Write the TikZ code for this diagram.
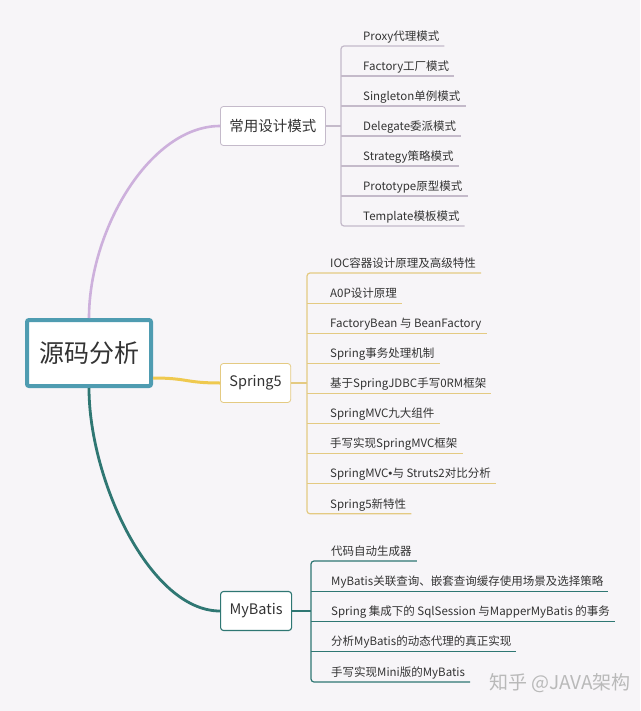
\documentclass[tikz,border=0pt]{standalone}
\usepackage{fontspec}
\setmainfont{Noto Sans CJK SC}
\newfontfamily\puntof{Liberation Sans}

\definecolor{fondo}{HTML}{F7F5F8}
\definecolor{raizc}{HTML}{4F9CB1}
\definecolor{lila}{HTML}{CDB0DC}
\definecolor{lilagris}{HTML}{C4BACA}
\definecolor{oro}{HTML}{EFC94F}
\definecolor{orocl}{HTML}{E4CA82}
\definecolor{verde}{HTML}{2F7773}
\definecolor{texto}{HTML}{333333}

\begin{document}
\begin{tikzpicture}[x=1pt,y=-1pt,
  raiz/.style={draw=raizc,line width=4pt,fill=white,rounded corners=2pt,
    minimum width=124pt,minimum height=66pt,text=texto,font=\fontsize{25}{28}\selectfont},
  rama/.style={fill=white,rounded corners=3pt,minimum height=39pt,inner xsep=9pt,
    anchor=west,text=texto,font=\fontsize{14.5}{17}\selectfont},
  hoja/.style={anchor=south west,inner xsep=0pt,inner ysep=3pt,text height=9pt,
    text depth=2.6pt,text=texto,font=\fontsize{11.5}{14}\selectfont}]

  % Fondo
  \fill[fondo] (0,0) rectangle (640,711);
  \useasboundingbox (0,0) rectangle (640,711);

  % Nodo central y ramas
  \node[raiz] (raiz) at (89,353) {源码分析};
  \node[rama,draw=lilagris,line width=0.8pt] (disenio) at (220,126) {常用设计模式};
  \node[rama,draw=orocl,line width=0.8pt] (spring) at (220,383) {Spring5};
  \node[rama,draw=verde,line width=1.1pt] (mybatis) at (220,611) {MyBatis};

  % Conectores curvos
  \draw[lila,line width=2.6pt] (raiz.north) .. controls +(0,-88) and +(-70,0) .. (disenio.west);
  \draw[oro,line width=3pt] ([yshift=-25pt]raiz.east) .. controls +(35,0) and +(-35,0) .. (spring.west);
  \draw[verde,line width=2.8pt] (raiz.south) .. controls +(0,92) and +(-70,0) .. (mybatis.west);

  % Patrones de diseño
  \coordinate (dlin) at (341,126);
  \foreach \t [count=\i] in {{Proxy代理模式},{Factory工厂模式},{Singleton单例模式},
      {Delegate委派模式},{Strategy策略模式},{Prototype原型模式},{Template模板模式}}
    \node[hoja] (d\i) at (363,{46+(\i-1)*30}) {\t};
  \draw[lilagris,line width=1.2pt] (disenio.east) -- (dlin);
  \draw[lilagris,line width=1.2pt,rounded corners=3pt] ([xshift=5pt]d1.south east)
    -- (d1.south west -| dlin) -- (d7.south west -| dlin) -- ([xshift=5pt]d7.south east);
  \foreach \i in {2,...,6}
    \draw[lilagris,line width=1.2pt] (d\i.south west -| dlin) -- ([xshift=5pt]d\i.south east);

  % Spring5
  \coordinate (slin) at (307,383);
  \foreach \t [count=\i] in {{IOC容器设计原理及高级特性},{A0P设计原理},{FactoryBean 与 BeanFactory},
      {Spring事务处理机制},{基于SpringJDBC手写0RM框架},{SpringMVC九大组件},
      {手写实现SpringMVC框架},{SpringMVC{\puntof •}与 Struts2对比分析},{Spring5新特性}}
    \node[hoja] (s\i) at (330,{273+(\i-1)*30.1}) {\t};
  \draw[orocl,line width=1.2pt] (spring.east) -- (slin);
  \draw[orocl,line width=1.2pt,rounded corners=3pt] ([xshift=5pt]s1.south east)
    -- (s1.south west -| slin) -- (s9.south west -| slin) -- ([xshift=5pt]s9.south east);
  \foreach \i in {2,...,8}
    \draw[orocl,line width=1.2pt] (s\i.south west -| slin) -- ([xshift=5pt]s\i.south east);

  % MyBatis
  \coordinate (mlin) at (311,611);
  \foreach \t [count=\i] in {{代码自动生成器},{MyBatis关联查询、嵌套查询缓存使用场景及选择策略},
      {Spring 集成下的 SqlSession 与MapperMyBatis 的事务},{分析MyBatis的动态代理的真正实现},
      {手写实现Mini版的MyBatis}}
    \node[hoja] (m\i) at (331,{561+(\i-1)*30.25}) {\t};
  \draw[verde,line width=1.2pt] (mybatis.east) -- (mlin);
  \draw[verde,line width=1.2pt,rounded corners=3pt] ([xshift=5pt]m1.south east)
    -- (m1.south west -| mlin) -- (m5.south west -| mlin) -- ([xshift=5pt]m5.south east);
  \foreach \i in {2,...,4}
    \draw[verde,line width=1.2pt] (m\i.south west -| mlin) -- ([xshift=5pt]m\i.south east);

  % Marca de agua
  \node[text=gray!55,font=\fontsize{19}{22}\selectfont] (marca) at (560,683) {知乎 @JAVA架构};
\end{tikzpicture}
\end{document}
